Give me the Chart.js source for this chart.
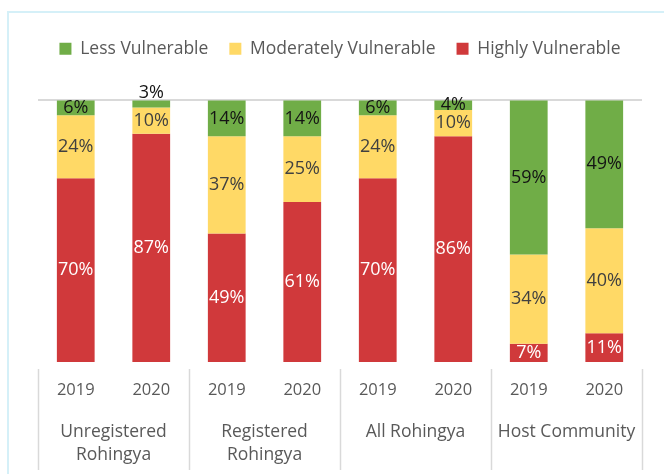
<!DOCTYPE html>
<html lang="en">
<head>
    <meta charset="UTF-8">
    <title>Vulnerability</title>
    <style>
        body {
            margin: 0;
            background: #fff;
        }

        #frame {
            position: absolute;
            left: 7px;
            top: 11px;
            width: 700px;
            height: 500px;
            border: 2px solid #d5f0f8;
        }

        #chartBlock {
            position: absolute;
            left: 0;
            top: 0;
            width: 664px;
            height: 474px;
        }
    </style>
</head>
<body>
    <div id="frame"></div>
    <div id="chartBlock">
        <canvas id="myChart"></canvas>
    </div>

<script src="https://cdn.jsdelivr.net/npm/chart.js@4.4.1/dist/chart.umd.min.js"></script>
<script>
    var years = ['2019', '2020', '2019', '2020', '2019', '2020', '2019', '2020'];
    var groups = [['Unregistered', 'Rohingya'], ['Registered', 'Rohingya'], 'All Rohingya', 'Host Community'];
    var lessVulnerable = [6, 3, 14, 14, 6, 4, 59, 49];
    var moderatelyVulnerable = [24, 10, 37, 25, 24, 10, 34, 40];
    var highlyVulnerable = [70, 87, 49, 61, 70, 86, 7, 11];

    var fontName = "'Open Sans', 'Noto Sans', sans-serif";
    var textGrey = '#595959';

    // labels in the middle of each segment
    var barLabels = {
        id: 'barLabels',
        afterDatasetsDraw(chart) {
            var ctx = chart.ctx;
            ctx.save();
            ctx.font = '18px ' + fontName;
            ctx.textAlign = 'center';
            ctx.textBaseline = 'middle';
            chart.data.datasets.forEach((ds, i) => {
                var meta = chart.getDatasetMeta(i);
                meta.data.forEach((bar, j) => {
                    var v = ds.data[j];
                    var y = (bar.y + bar.base) / 2;
                    if (v <= 3) {
                        y = Math.min(bar.y, bar.base) - 8;
                    }
                    ctx.fillStyle = ds.labelColor;
                    ctx.fillText(v + '%', bar.x, y);
                });
            });
            ctx.restore();
        }
    };

    // more room between legend and bars
    var legendGap = {
        id: 'legendGap',
        afterInit(chart) {
            var fit = chart.legend.fit;
            chart.legend.fit = function () {
                fit.bind(chart.legend)();
                this.height += 32;
            };
        }
    };

    // vertical lines between the groups, under the plot
    var groupLines = {
        id: 'groupLines',
        afterDraw(chart) {
            var ctx = chart.ctx;
            var x = chart.scales.x;
            var area = chart.chartArea;
            var step = x.getPixelForValue(1) - x.getPixelForValue(0);
            ctx.save();
            ctx.strokeStyle = '#d9d9d9';
            ctx.lineWidth = 1.5;
            for (var i = 0; i <= years.length; i += 2) {
                var px = Math.round(x.getPixelForValue(i) - step / 2) + 0.5;
                ctx.beginPath();
                ctx.moveTo(px, area.bottom + 7);
                ctx.lineTo(px, 470);
                ctx.stroke();
            }
            ctx.restore();
        }
    };

    var ctx = document.getElementById('myChart').getContext('2d');
    ctx.canvas.width = 664;
    ctx.canvas.height = 474;

    var myChart = new Chart(ctx, {
        type: 'bar',
        data: {
            labels: years,
            datasets: [
                {
                    label: 'Less Vulnerable',
                    data: lessVulnerable,
                    backgroundColor: '#70ad47',
                    labelColor: '#141414'
                },
                {
                    label: 'Moderately Vulnerable',
                    data: moderatelyVulnerable,
                    backgroundColor: '#ffd966',
                    labelColor: '#404040'
                },
                {
                    label: 'Highly Vulnerable',
                    data: highlyVulnerable,
                    backgroundColor: '#d0393b',
                    labelColor: '#ffffff'
                }
            ]
        },
        options: {
            responsive: false,
            animation: false,
            barPercentage: 0.5,
            categoryPercentage: 1,
            layout: {
                padding: { left: 38, right: 22, top: 19, bottom: 0 }
            },
            plugins: {
                legend: {
                    position: 'top',
                    labels: {
                        boxWidth: 12,
                        boxHeight: 12,
                        color: textGrey,
                        padding: 21,
                        font: { family: fontName, size: 17.5 }
                    }
                },
                tooltip: { enabled: false }
            },
            scales: {
                x: {
                    stacked: true,
                    grid: { display: false, drawTicks: false },
                    border: { display: false },
                    afterFit: (scale) => { scale.height = 38; },
                    ticks: {
                        color: textGrey,
                        padding: 18,
                        maxRotation: 0,
                        font: { family: fontName, size: 16.5 }
                    }
                },
                group: {
                    type: 'category',
                    labels: groups,
                    position: 'bottom',
                    grid: { display: false, drawTicks: false },
                    border: { display: false },
                    afterFit: (scale) => { scale.height = 74; },
                    ticks: {
                        color: textGrey,
                        padding: 20,
                        maxRotation: 0,
                        font: { family: fontName, size: 17.5, lineHeight: 1.32 }
                    }
                },
                y: {
                    stacked: true,
                    reverse: true,
                    min: 0,
                    max: 100,
                    ticks: { display: false },
                    border: { display: false },
                    grid: {
                        drawTicks: false,
                        lineWidth: 2,
                        color: (c) => c.tick && c.tick.value === 0 ? '#d9d9d9' : 'transparent'
                    }
                }
            }
        },
        plugins: [barLabels, legendGap, groupLines]
    });
</script>
</body>
</html>
